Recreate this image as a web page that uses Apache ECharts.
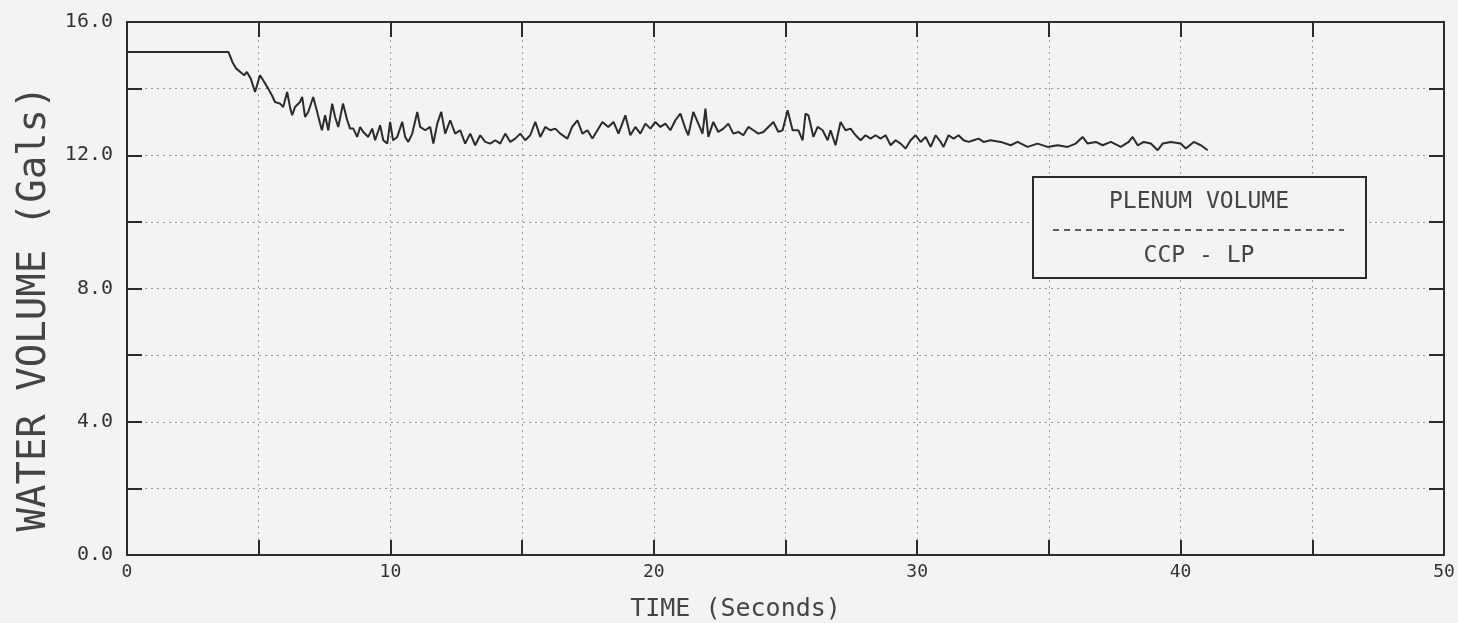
<!DOCTYPE html>
<html>
<head>
<meta charset="utf-8">
<script src="https://cdn.jsdelivr.net/npm/echarts@6/dist/echarts.min.js"></script>
<style>
html,body{margin:0;padding:0;background:#f3f3f1;}
#chart{width:1458px;height:623px;}
</style>
</head>
<body>
<div id="chart"></div>
<script>
const timeSec = [0, 3.85, 4.0, 4.15, 4.3, 4.45, 4.55, 4.7, 4.86, 5.05, 5.17, 5.36, 5.5, 5.62, 5.81, 5.93, 6.08, 6.2, 6.27, 6.38, 6.57, 6.65, 6.76, 6.88, 7.07, 7.22, 7.33, 7.4, 7.52, 7.64, 7.79, 7.9, 8.02, 8.2, 8.36, 8.47, 8.59, 8.74, 8.85, 8.97, 9.16, 9.31, 9.42, 9.61, 9.73, 9.88, 9.99, 10.1, 10.26, 10.45, 10.56, 10.68, 10.83, 11.02, 11.13, 11.32, 11.51, 11.63, 11.78, 11.93, 12.08, 12.27, 12.46, 12.65, 12.84, 13.03, 13.22, 13.41, 13.6, 13.79, 13.98, 14.17, 14.36, 14.55, 14.74, 14.93, 15.12, 15.31, 15.5, 15.69, 15.88, 16.07, 16.26, 16.45, 16.72, 16.9, 17.1, 17.29, 17.48, 17.67, 17.86, 18.05, 18.27, 18.47, 18.66, 18.92, 19.11, 19.3, 19.49, 19.68, 19.87, 20.06, 20.25, 20.44, 20.63, 20.82, 21.01, 21.2, 21.31, 21.5, 21.69, 21.85, 21.96, 22.07, 22.26, 22.45, 22.64, 22.83, 23.02, 23.21, 23.4, 23.59, 23.78, 23.97, 24.16, 24.35, 24.54, 24.73, 24.89, 25.08, 25.27, 25.49, 25.65, 25.76, 25.87, 26.06, 26.22, 26.41, 26.6, 26.71, 26.9, 27.09, 27.28, 27.47, 27.66, 27.85, 28.04, 28.23, 28.42, 28.61, 28.8, 28.99, 29.18, 29.37, 29.56, 29.75, 29.94, 30.13, 30.32, 30.51, 30.7, 30.89, 31.0, 31.19, 31.38, 31.57, 31.76, 31.95, 32.14, 32.33, 32.52, 32.79, 33.17, 33.55, 33.81, 34.19, 34.57, 34.95, 35.33, 35.71, 36.02, 36.28, 36.47, 36.78, 37.04, 37.35, 37.73, 38.03, 38.18, 38.37, 38.6, 38.87, 39.13, 39.32, 39.63, 40.0, 40.2, 40.5, 40.77, 41.03];
const waterVolume = [15.1, 15.1, 14.8, 14.6, 14.5, 14.4, 14.5, 14.3, 13.9, 14.4, 14.25, 14.0, 13.8, 13.6, 13.55, 13.45, 13.9, 13.4, 13.2, 13.45, 13.6, 13.75, 13.15, 13.3, 13.75, 13.3, 12.95, 12.75, 13.2, 12.75, 13.55, 13.15, 12.85, 13.55, 13.05, 12.8, 12.8, 12.55, 12.85, 12.7, 12.55, 12.8, 12.45, 12.9, 12.45, 12.35, 13.0, 12.45, 12.55, 13.0, 12.55, 12.4, 12.65, 13.3, 12.85, 12.75, 12.85, 12.35, 12.95, 13.3, 12.65, 13.05, 12.65, 12.75, 12.35, 12.65, 12.3, 12.6, 12.4, 12.35, 12.45, 12.35, 12.65, 12.4, 12.5, 12.65, 12.45, 12.6, 13.0, 12.55, 12.85, 12.75, 12.8, 12.65, 12.5, 12.85, 13.05, 12.65, 12.75, 12.5, 12.75, 13.0, 12.85, 13.0, 12.65, 13.2, 12.6, 12.85, 12.65, 12.95, 12.8, 13.0, 12.85, 12.95, 12.75, 13.05, 13.25, 12.8, 12.6, 13.3, 12.95, 12.65, 13.4, 12.55, 13.0, 12.7, 12.8, 12.95, 12.65, 12.7, 12.6, 12.85, 12.75, 12.65, 12.7, 12.85, 13.0, 12.7, 12.75, 13.35, 12.75, 12.75, 12.45, 13.25, 13.2, 12.55, 12.85, 12.75, 12.45, 12.75, 12.3, 13.0, 12.75, 12.8, 12.6, 12.45, 12.6, 12.5, 12.6, 12.5, 12.6, 12.3, 12.45, 12.35, 12.2, 12.45, 12.6, 12.4, 12.55, 12.25, 12.6, 12.4, 12.25, 12.6, 12.5, 12.6, 12.45, 12.4, 12.45, 12.5, 12.4, 12.45, 12.4, 12.3, 12.4, 12.25, 12.35, 12.25, 12.3, 12.25, 12.35, 12.55, 12.35, 12.4, 12.3, 12.4, 12.25, 12.4, 12.55, 12.3, 12.4, 12.35, 12.15, 12.35, 12.4, 12.35, 12.2, 12.4, 12.3, 12.15];
const xTickLabels = {0: '0', 10: '10', 20: '20', 30: '30', 40: '40', 50: '50'};
const yTickLabels = {0: '0.0', 4: '4.0', 8: '8.0', 12: '12.0', 16: '16.0'};
const legendTitle = 'PLENUM VOLUME';
const legendCase = 'CCP - LP';

const ink = '#2b2b2b';
const mono = '"DejaVu Sans Mono", monospace';
const chart = echarts.init(document.getElementById('chart'), null, {renderer: 'canvas'});
const seriesData = timeSec.map((t, i) => [t, waterVolume[i]]);

const frameAxis = {
  axisLine: {show: true, onZero: false, lineStyle: {color: ink, width: 2}},
  axisTick: {show: true, inside: true, length: 15, lineStyle: {color: ink, width: 2}},
};

chart.setOption({
  backgroundColor: '#f3f3f1',
  animation: false,
  grid: {left: 127, right: 14, top: 22, bottom: 68, containLabel: false, outerBoundsMode: 'none'},
  xAxis: [{
    type: 'value', min: 0, max: 50, interval: 5, position: 'bottom',
    name: 'TIME (Seconds)', nameLocation: 'middle', nameGap: 42,
    nameTextStyle: {fontFamily: mono, fontSize: 25, color: '#444', padding: [0, 100, 0, 0]},
    ...frameAxis,
    axisLabel: {show: true, fontFamily: mono, fontSize: 18, color: '#333', margin: 8,
      formatter: v => xTickLabels[v] !== undefined ? xTickLabels[v] : ''},
    splitLine: {show: true, lineStyle: {color: '#9a9a9a', type: [2, 4], width: 1}}
  }, {
    type: 'value', min: 0, max: 50, interval: 5, position: 'top',
    ...frameAxis, axisLabel: {show: false}, splitLine: {show: false}
  }],
  yAxis: [{
    type: 'value', min: 0, max: 16, interval: 2, position: 'left',
    name: 'WATER VOLUME (Gals)', nameLocation: 'middle', nameGap: 62, nameRotate: 90,
    nameTextStyle: {fontFamily: mono, fontSize: 39, color: '#444', padding: [0, 40, 0, 0]},
    ...frameAxis,
    axisLabel: {show: true, fontFamily: mono, fontSize: 20, color: '#333', margin: 14,
      formatter: v => yTickLabels[v] !== undefined ? yTickLabels[v] : ''},
    splitLine: {show: true, lineStyle: {color: '#9a9a9a', type: [2, 4], width: 1}}
  }, {
    type: 'value', min: 0, max: 16, interval: 2, position: 'right',
    ...frameAxis, axisLabel: {show: false}, splitLine: {show: false}
  }],
  series: [{
    type: 'line', data: seriesData, showSymbol: false, symbol: 'none',
    lineStyle: {color: ink, width: 2}, z: 5
  }],
  graphic: [
    {type: 'rect', shape: {x: 1033, y: 177, width: 333, height: 101},
     style: {fill: '#f3f3f1', stroke: ink, lineWidth: 2}, z: 10},
    {type: 'text', x: 1199, y: 202, z: 11,
     style: {text: legendTitle, font: '23px ' + mono, fill: '#444', textAlign: 'center', textVerticalAlign: 'middle'}},
    {type: 'line', shape: {x1: 1053, y1: 230, x2: 1344, y2: 230}, z: 11,
     style: {stroke: ink, lineWidth: 1.6, lineDash: [6, 5]}},
    {type: 'text', x: 1199, y: 256, z: 11,
     style: {text: legendCase, font: '23px ' + mono, fill: '#444', textAlign: 'center', textVerticalAlign: 'middle'}}
  ]
});
</script>
</body>
</html>
